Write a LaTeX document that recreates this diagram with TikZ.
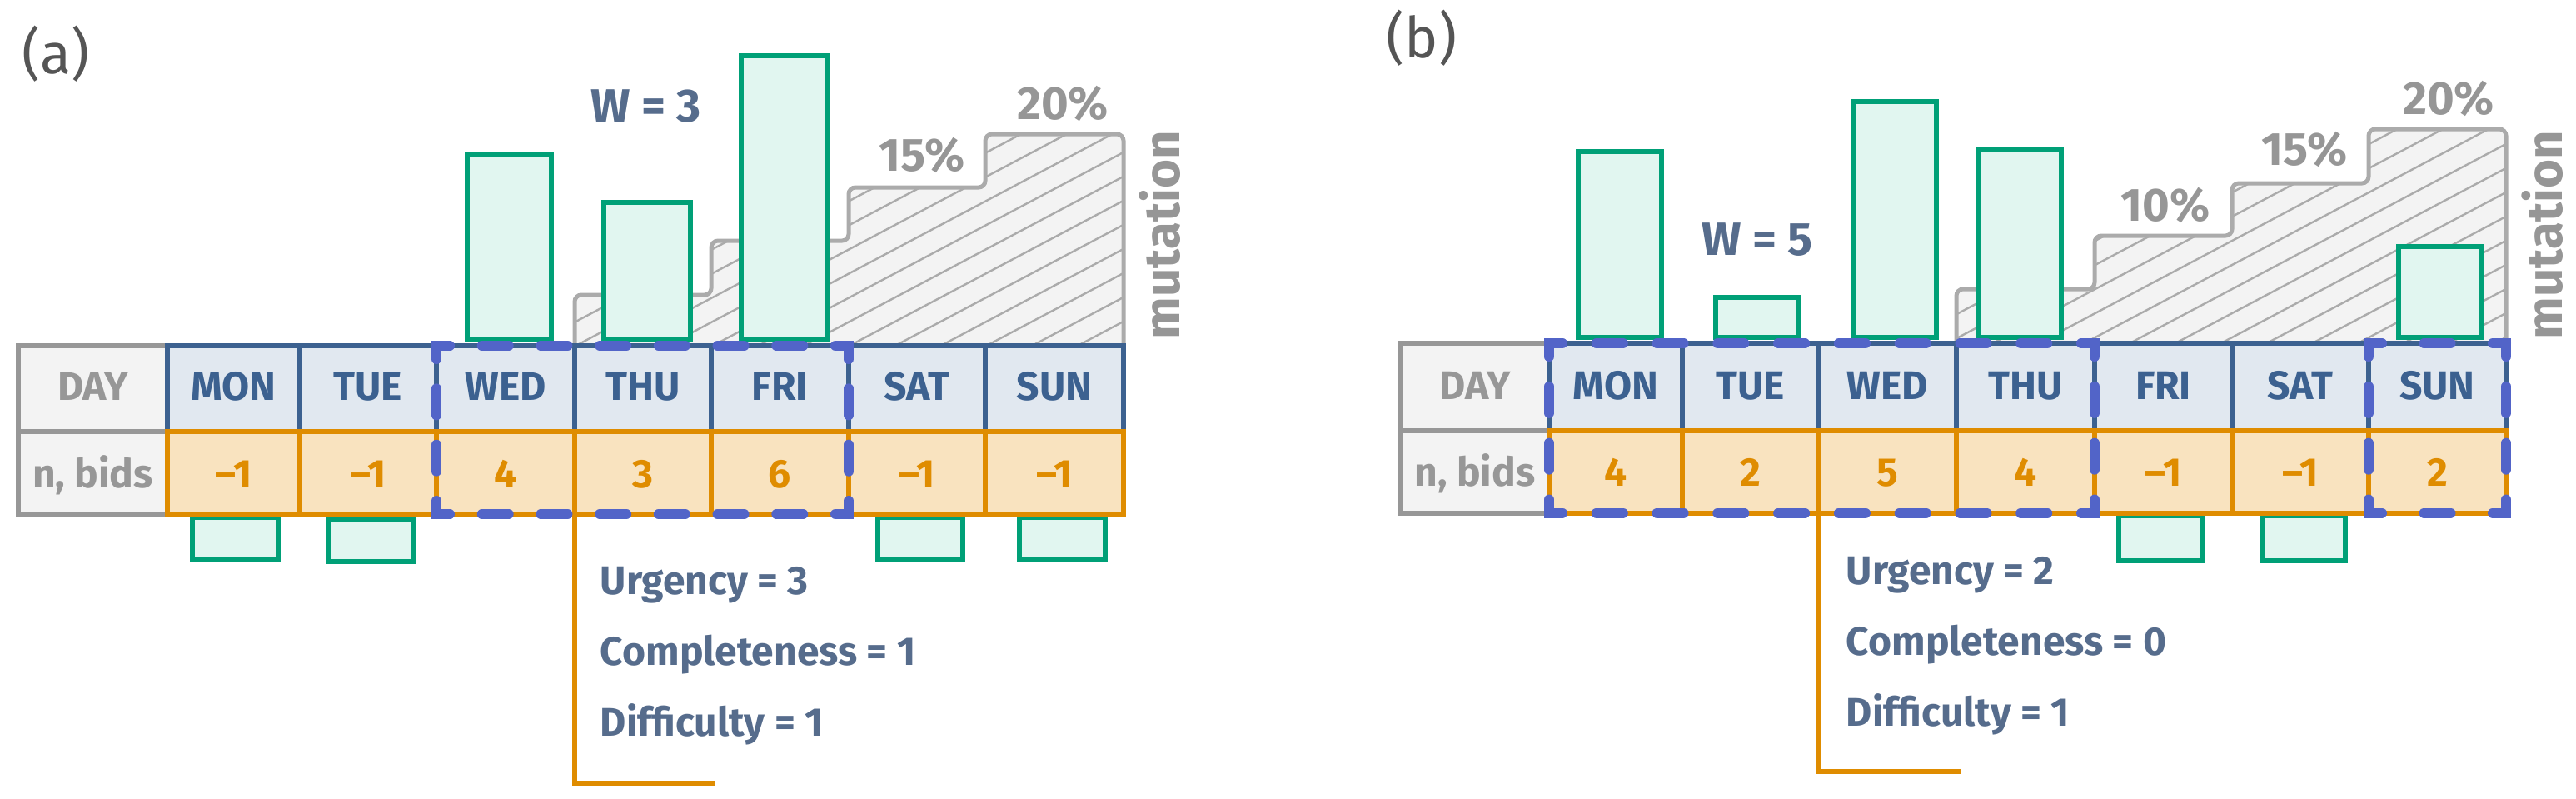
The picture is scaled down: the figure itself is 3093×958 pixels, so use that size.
\documentclass[tikz,border=0pt]{standalone}
\usepackage{fontspec}
\setmainfont{Fira Sans}
\definecolor{gline}{HTML}{00A077}
\definecolor{gfill}{HTML}{E1F6F0}
\definecolor{tblue}{HTML}{3C6190}
\definecolor{dayfill}{HTML}{E1E8F0}
\definecolor{torange}{HTML}{DF8C00}
\definecolor{bidfill}{HTML}{F9E3BF}
\definecolor{hgray}{HTML}{979797}
\definecolor{hfill}{HTML}{F3F3F3}
\definecolor{hline}{HTML}{ABABAB}
\definecolor{wblue}{HTML}{5264C8}
\definecolor{slate}{HTML}{566C8C}
\definecolor{lblgray}{HTML}{555555}
\definecolor{pctgray}{HTML}{969696}
% dashed window side: x1 y1 x2 y2 n(periods)
\newcommand\wside[5]{%
  \pgfmathsetmacro\wsoff{((#3-#1)+(#4-#2))/#5*0.25-8}%
  \draw[win, dash pattern=on 8pt off \wsoff pt, dash phase=4pt] (#1,#2) -- (#3,#4);}
\newcommand\wcorner[2]{\fill[wblue] (#1-6,#2-6) rectangle (#1+6,#2+6);}
\begin{document}
\begin{tikzpicture}[x=0.25pt,y=-0.25pt,
  hdr/.style={draw=hgray, fill=hfill, line width=1.5pt},
  dayrow/.style={draw=tblue, fill=dayfill, line width=1.5pt},
  bidrow/.style={draw=torange, fill=bidfill, line width=1.5pt},
  bar/.style={draw=gline, fill=gfill, line width=1.4pt},
  hatchedge/.style={draw=hline, line width=1.25pt, rounded corners=2pt},
  hatchline/.style={draw=hline, line width=0.6pt},
  win/.style={draw=wblue, line width=3pt, line cap=round},
  conn/.style={draw=torange, line width=1.3pt},
  hdrtxt/.style={text=hgray, font=\bfseries\fontsize{12}{14}\selectfont, anchor=base, inner sep=0pt},
  daytxt/.style={text=tblue, font=\bfseries\fontsize{12}{14}\selectfont, anchor=base, inner sep=0pt},
  valtxt/.style={text=torange, font=\bfseries\fontsize{12}{14}\selectfont, anchor=base, inner sep=0pt},
  info/.style={text=slate, font=\bfseries\fontsize{12}{14}\selectfont, anchor=base west, inner sep=0pt},
  wtxt/.style={text=slate, font=\bfseries\fontsize{14}{16}\selectfont, anchor=base, inner sep=0pt},
  pct/.style={text=pctgray, font=\bfseries\fontsize{14}{16}\selectfont, anchor=base, inner sep=0pt},
  mut/.style={text=pctgray, font=\bfseries\fontsize{15}{17}\selectfont, anchor=base west, rotate=90, inner sep=0pt},
  lbl/.style={text=lblgray, font=\fontsize{17}{20}\selectfont, anchor=base, inner sep=0pt}]
\useasboundingbox (0,0) rectangle (3093,958);

% ================= Panel (a) =================
\node[lbl] (la) at (67,88) {(a)};

\begin{scope}
  \clip[rounded corners=2pt] (690,415) -- (690,354) -- (854,354) -- (854,289) -- (1019,289) -- (1019,225) -- (1183,225) -- (1183,161) -- (1349,161) -- (1349,415) -- cycle;
  \fill[hfill] (680,150) rectangle (1360,420);
  \foreach \k in {0,...,22} \draw[hatchline] (680,{160+29*\k}) -- ++(680,-360);
\end{scope}
\draw[hatchedge] (690,415) -- (690,354) -- (854,354) -- (854,289) -- (1019,289) -- (1019,225) -- (1183,225) -- (1183,161) -- (1349,161) -- (1349,415);

\filldraw[bar] (561,185) rectangle (662,408);
\filldraw[bar] (725,243) rectangle (829,408);
\filldraw[bar] (890,67) rectangle (994,408);
\filldraw[bar] (231,621) rectangle (334,672);
\filldraw[bar] (394,624) rectangle (497,674);
\filldraw[bar] (1054,621) rectangle (1156,672);
\filldraw[bar] (1224,621) rectangle (1327,672);

\filldraw[hdr] (22,415) rectangle (201,617);
\draw[hdr] (22,518) -- (201,518);
\filldraw[dayrow] (201,415) rectangle (1349,518);
\foreach \c in {360,524,690,854,1019,1183} \draw[dayrow] (\c,415) -- (\c,518);
\filldraw[bidrow] (201,518) rectangle (1349,617);
\foreach \c in {360,524,690,854,1019,1183} \draw[bidrow] (\c,518) -- (\c,617);

\node[hdrtxt] (a-day) at (111.5,480) {DAY};
\node[hdrtxt] (a-nb) at (111.5,585) {n, bids};
\foreach \n/\cx/\t in {mon/280.5/MON, tue/442/TUE, wed/607/WED, thu/772/THU, fri/936.5/FRI, sat/1101/SAT, sun/1266/SUN}
  \node[daytxt] (a-\n) at (\cx,480) {\t};
\foreach \n/\cx/\t in {mon/280.5/–1, tue/442/–1, wed/607/4, thu/772/3, fri/936.5/6, sat/1101/–1, sun/1266/–1}
  \node[valtxt] (a-v\n) at (\cx,585) {\t};

\coordinate (a-c0) at (690,617);
\coordinate (a-c1) at (859,940);
\draw[conn] (a-c0) |- (a-c1);

\wside{524}{415}{1019}{415}{7}
\wside{524}{617}{1019}{617}{7}
\wside{524}{415}{524}{617}{3}
\wside{1019}{415}{1019}{617}{3}
\wcorner{524}{415}\wcorner{1019}{415}\wcorner{524}{617}\wcorner{1019}{617}

\node[info] (a-urg) at (720,713) {Urgency = 3};
\node[info] (a-com) at (720,798) {Completeness = 1};
\node[info] (a-dif) at (720,883) {Difficulty = 1};

\node[wtxt] (a-w) at (776,146) {W = 3};
\node[pct] (a-p15) at (1107,205) {15\%};
\node[pct] (a-p20) at (1276,143) {20\%};
\node[mut] (a-mut) at (1416,408) {mutation};

% ================= Panel (b) =================
\node[lbl] (lb) at (1707,69) {(b)};

\begin{scope}
  \clip[rounded corners=2pt] (2349,412) -- (2349,347) -- (2515,347) -- (2515,283) -- (2680,283) -- (2680,220) -- (2844,220) -- (2844,155) -- (3009,155) -- (3009,412) -- cycle;
  \fill[hfill] (2340,140) rectangle (3020,420);
  \foreach \k in {0,...,22} \draw[hatchline] (2340,{150+29*\k}) -- ++(680,-360);
\end{scope}
\draw[hatchedge] (2349,412) -- (2349,347) -- (2515,347) -- (2515,283) -- (2680,283) -- (2680,220) -- (2844,220) -- (2844,155) -- (3009,155) -- (3009,412);

\filldraw[bar] (1895,182) rectangle (1995,405);
\filldraw[bar] (2060,357) rectangle (2160,405);
\filldraw[bar] (2225,122) rectangle (2325,405);
\filldraw[bar] (2376,179) rectangle (2475,405);
\filldraw[bar] (2880,296) rectangle (2979,405);
\filldraw[bar] (2544,619) rectangle (2644,673);
\filldraw[bar] (2716,619) rectangle (2816,673);

\filldraw[hdr] (1682,412) rectangle (1860,615.5);
\draw[hdr] (1682,517) -- (1860,517);
\filldraw[dayrow] (1860,412) rectangle (3009,517);
\foreach \c in {2020,2184,2349,2515,2680,2844} \draw[dayrow] (\c,412) -- (\c,517);
\filldraw[bidrow] (1860,517) rectangle (3009,615.5);
\foreach \c in {2020,2184,2349,2515,2680,2844} \draw[bidrow] (\c,517) -- (\c,615.5);

\node[hdrtxt] (b-day) at (1771,479) {DAY};
\node[hdrtxt] (b-nb) at (1771,583) {n, bids};
\foreach \n/\cx/\t in {mon/1940/MON, tue/2102/TUE, wed/2266.5/WED, thu/2432/THU, fri/2597.5/FRI, sat/2762/SAT, sun/2926.5/SUN}
  \node[daytxt] (b-\n) at (\cx,479) {\t};
\foreach \n/\cx/\t in {mon/1940/4, tue/2102/2, wed/2266.5/5, thu/2432/4, fri/2597.5/–1, sat/2762/–1, sun/2926.5/2}
  \node[valtxt] (b-v\n) at (\cx,583) {\t};

\coordinate (b-c0) at (2184,615.5);
\coordinate (b-c1) at (2354,926);
\draw[conn] (b-c0) |- (b-c1);

\wside{1860}{412}{2515}{412}{9}
\wside{1860}{615.5}{2515}{615.5}{9}
\wside{1860}{412}{1860}{615.5}{3}
\wside{2515}{412}{2515}{615.5}{3}
\wcorner{1860}{412}\wcorner{2515}{412}\wcorner{1860}{615.5}\wcorner{2515}{615.5}
\wside{2844}{412}{3009}{412}{2}
\wside{2844}{615.5}{3009}{615.5}{2}
\wside{2844}{412}{2844}{615.5}{3}
\wside{3009}{412}{3009}{615.5}{3}
\wcorner{2844}{412}\wcorner{3009}{412}\wcorner{2844}{615.5}\wcorner{3009}{615.5}

\node[info] (b-urg) at (2216,701.5) {Urgency = 2};
\node[info] (b-com) at (2216,786.5) {Completeness = 0};
\node[info] (b-dif) at (2216,871.5) {Difficulty = 1};

\node[wtxt] (b-w) at (2110,306) {W = 5};
\node[pct] (b-p10) at (2600,265) {10\%};
\node[pct] (b-p15) at (2767,198) {15\%};
\node[pct] (b-p20) at (2940,137) {20\%};
\node[mut] (b-mut) at (3076,408) {mutation};
\end{tikzpicture}
\end{document}
